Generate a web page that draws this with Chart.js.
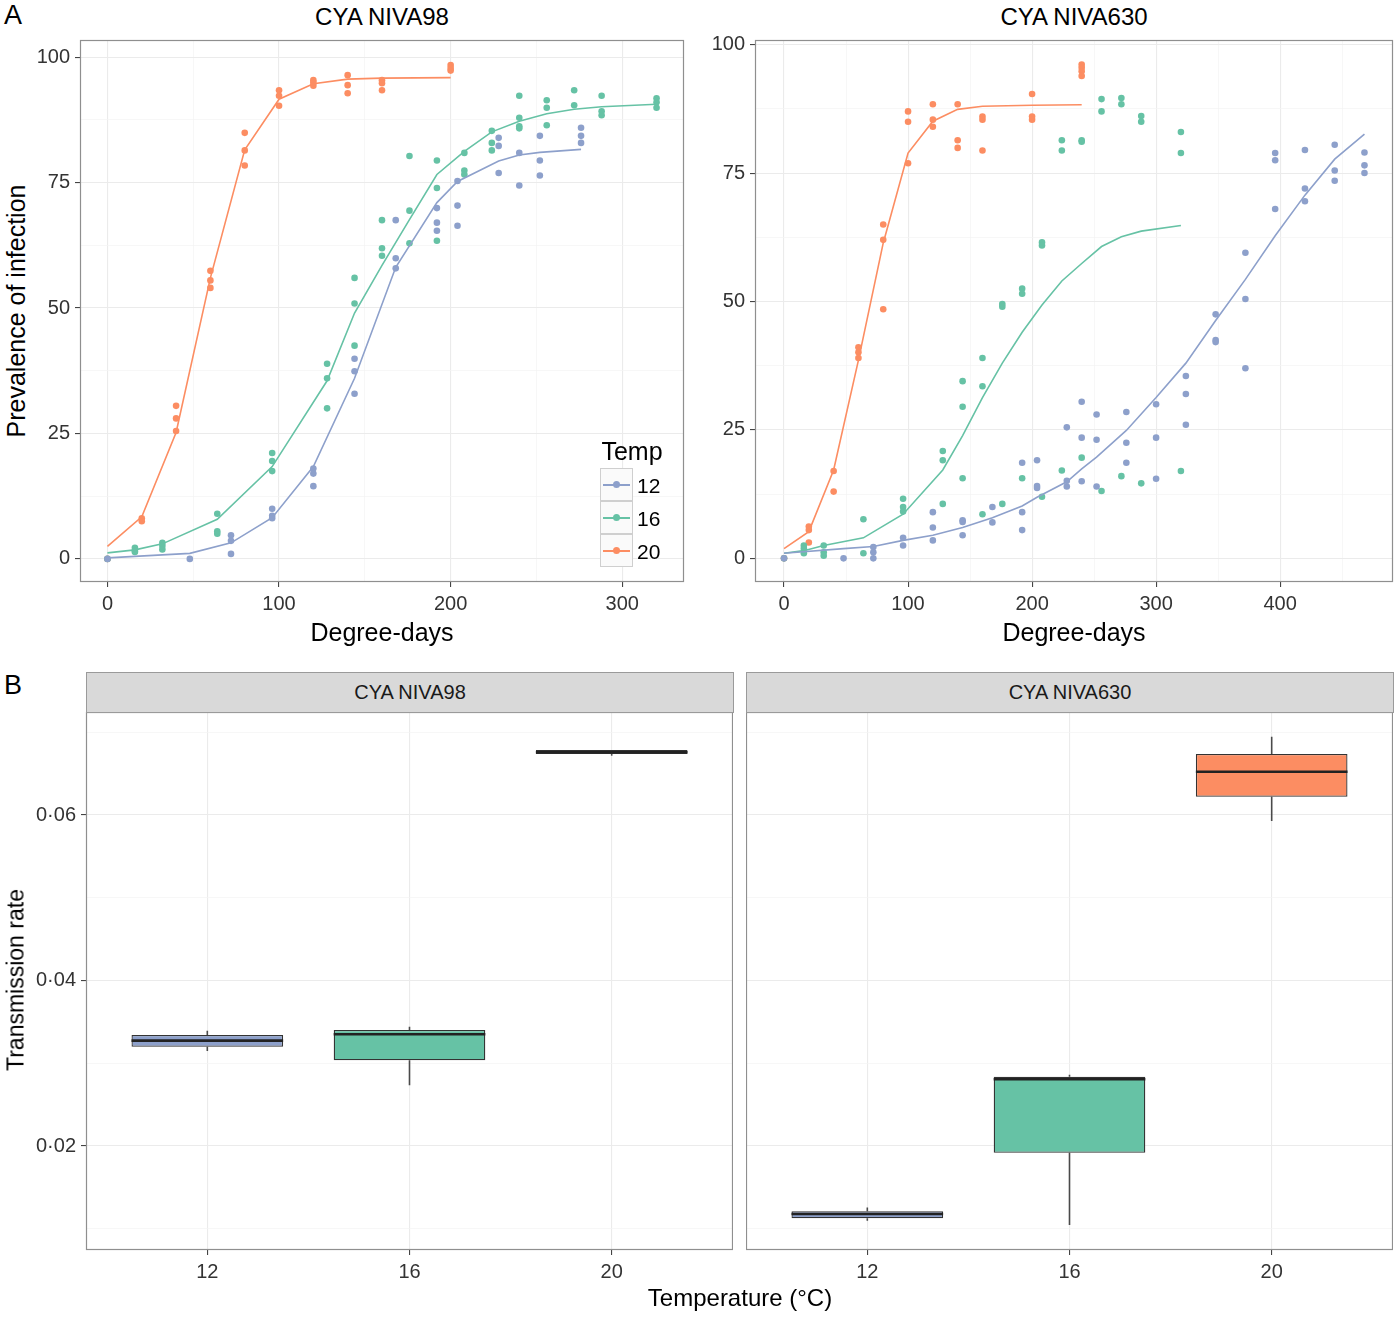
<!DOCTYPE html>
<html><head><meta charset="utf-8">
<script src="https://cdn.jsdelivr.net/npm/chart.js@4.4.0/dist/chart.umd.min.js"></script>
<style>
body{margin:0;background:#fff;}
#wrap{position:relative;width:1400px;height:1318px;font-family:"Liberation Sans",Arial,Helvetica,sans-serif;color:#000;overflow:hidden;background:#fff}
canvas{position:absolute}
.t{position:absolute;white-space:nowrap;line-height:1;transform:translate(-50%,-50%)}
.rot{transform:translate(-50%,-50%) rotate(-90deg)}
.strip{position:absolute;box-sizing:border-box;border:1px solid #9a9a9a;background:#d9d9d9;height:41px;font-size:20px;display:flex;align-items:center;justify-content:center;color:#1a1a1a}
.key{position:absolute;left:600px;width:33px;height:33px;box-sizing:border-box;border:1px solid #cfcfcf;background:#fafafa}
.key .ln{position:absolute;left:2px;right:2px;top:15px;height:1.6px}
.key .dt{position:absolute;left:12px;top:12px;width:7px;height:7px;border-radius:50%}
.klab{position:absolute;left:637px;font-size:21px;line-height:1;transform:translateY(-50%)}
</style></head>
<body><div id="wrap">
<canvas id="c1" width="660" height="590" style="left:30px;top:30px"></canvas>
<canvas id="c2" width="700" height="590" style="left:700px;top:30px"></canvas>
<canvas id="c3" width="707" height="584" style="left:26px;top:702px"></canvas>
<canvas id="c4" width="647" height="584" style="left:746px;top:702px"></canvas>

<div class="t" style="left:13px;top:15px;font-size:27px">A</div>
<div class="t" style="left:13px;top:685px;font-size:27px">B</div>
<div class="t" style="left:382px;top:17px;font-size:24px">CYA NIVA98</div>
<div class="t" style="left:1074px;top:17px;font-size:24px">CYA NIVA630</div>
<div class="t rot" style="left:16px;top:311px;font-size:25px">Prevalence of infection</div>
<div class="t" style="left:382px;top:632px;font-size:25px">Degree-days</div>
<div class="t" style="left:1074px;top:632px;font-size:25px">Degree-days</div>
<div class="t rot" style="left:16px;top:980px;font-size:23px">Transmission rate</div>
<div class="t" style="left:740px;top:1298px;font-size:24px">Temperature (°C)</div>
<div class="strip" style="left:86px;top:672px;width:648px">CYA NIVA98</div>
<div class="strip" style="left:746px;top:672px;width:648px">CYA NIVA630</div>

<div class="t" style="left:632px;top:451px;font-size:25px">Temp</div>
<div class="key" style="top:468px"><div class="ln" style="background:#8da0cb"></div><div class="dt" style="background:#8da0cb"></div></div>
<div class="key" style="top:501px"><div class="ln" style="background:#66c2a5"></div><div class="dt" style="background:#66c2a5"></div></div>
<div class="key" style="top:534px"><div class="ln" style="background:#fc8d62"></div><div class="dt" style="background:#fc8d62"></div></div>
<div class="klab" style="top:485px">12</div>
<div class="klab" style="top:518px">16</div>
<div class="klab" style="top:551px">20</div>
</div>
<script>
// ---------- Panel A : CYA NIVA98 ----------
const a_t12 = [0,48,72,96,120,144,168,192,204,228,240,252,276];
const a_p12 = [[0],[0],[4.7,3.6,1.0],[10,8.6,8.1],[18,17,14.5],[39.9,37.4,32.9],[67.5,59.9,57.9],[69.9,67,65.4],[75.3,70.4,66.4],[83.9,82.3,76.9],[80.9,74.4],[84.3,79.4,76.4],[85.9,84.3,82.9]];
const a_f12 = [0.2,1.1,3.2,8.2,18.4,36,58.1,71,75.2,79.3,80.5,81,81.6];

const a_t16 = [0,16,32,64,96,128,144,160,176,192,208,224,240,256,272,288,320];
const a_p16 = [[0],[2.2,1.6,1.4],[3.2,2.6,1.9],[9.0,5.5,5.0],[21.1,19.5,17.5],[38.9,36,30],[56,50.9,42.5],[67.5,61.9,60.4],[80.3,69.4,62.9],[79.4,73.9,63.4],[80.9,77.4,76.6],[85.3,82.9,81.4],[92.3,87.9,86.2,85.8],[91.4,89.9,86.4],[93.4,90.4],[92.3,89.2,88.4],[91.8,91,89.9]];
const a_f16 = [1.2,1.8,3.0,7.9,18.4,35.5,49,58.5,67.6,76.6,81.2,85.1,87.2,88.7,89.6,90.1,90.6];

const a_t20 = [0,20,40,60,80,100,120,140,160,200];
const a_p20 = [[0],[8.1,7.5],[30.5,28,25.5],[57.4,55.5,54],[84.9,81.4,78.4],[93.4,92.3,90.3],[95.4,94.9,94.3],[96.4,94.4,92.8],[95.4,94.8,93.4],[98.4,97.8,97.3]];
const a_f20 = [2.5,8.4,25.2,56,81.5,91.6,94.7,95.6,95.8,95.9];

// ---------- Panel A : CYA NIVA630 ----------
const b_t12 = [0,48,72,96,120,144,168,192,204,228,240,252,276,300,324,348,372,396,420,444,468];
const b_p12 = [[0],[0],[2.2,1.2,0],[4.0,2.5],[9.0,6.0,3.5],[7.4,7.1,4.5],[10,7.0],[18.6,9.0,5.5],[19.1,14.1,13.7],[25.5,15.1,14.0],[30.5,23.5,15.0],[28,23.1,14.0],[28.5,22.5,18.6],[30,23.5,15.5],[35.5,32,26],[47.5,42.5,42.1],[59.5,50.5,37],[78.9,77.5,68],[79.5,72,69.5],[80.5,75.5,73.5],[79,76.5,75]];
const b_f12 = [1.0,1.9,2.3,3.5,4.5,6.0,7.9,10.2,11.9,14.9,17.4,19.7,24.9,31.3,38,46.3,54.3,62.8,70.7,77.7,82.6];

const b_t16 = [0,16,32,64,96,128,144,160,176,192,208,224,240,256,272,288,320];
const b_p16 = [[0],[2.5,1.9,1.0],[2.5,1.2,0.5],[7.6,1.0],[11.6,10,9.1],[20.9,19.1,10.6],[34.5,29.5,15.6],[39,33.5,8.6],[49.5,49,10.6],[52.5,51.5,15.6],[61.5,60.9,12],[81.4,79.4,17.1],[81.4,81.1,19.6],[89.4,87,13.1],[89.6,88.4,16.0],[86.1,85,14.6],[83,78.9,17.0]];
const b_f16 = [1.0,1.5,2.5,4.0,8.6,17.2,23.9,31.3,38,44,49.3,54,57.4,60.7,62.6,63.7,64.8];

const b_t20 = [0,20,40,60,80,100,120,140,160,200,240];
const b_p20 = [[0],[6.2,5.5,3.1],[17,13],[41.1,40.1,39.0],[65,62,48.5],[87,85,76.9],[88.4,85.4,84],[88.4,81.4,79.9],[86,85.4,79.4],[90.4,86,85.4],[96.1,95.5,94.8,93.9]];
const b_f20 = [1.9,5.2,17.2,38.6,61.4,78.9,85.1,87.4,88,88.2,88.3];

// ---------- Panel B : transmission rate boxplots ----------
const tempCats = ['12','16','20'];
const boxA_lo  = [0.03148,0.02733,0.06717];
const boxA_q1  = [0.03200,0.03036,0.06737];
const boxA_med = [0.03273,0.03350,0.06758];
const boxA_q3  = [0.03341,0.03402,0.06785];
const boxA_hi  = [0.03393,0.03442,0.06785];
const boxB_lo  = [0.01097,0.01045,0.05927];
const boxB_q1  = [0.01126,0.01919,0.06221];
const boxB_med = [0.01178,0.02806,0.06523];
const boxB_q3  = [0.01211,0.02838,0.06737];
const boxB_hi  = [0.01256,0.02862,0.06946];

// tick values
const yTicksA = [0,12.5,25,37.5,50,62.5,75,87.5,100];
const yMajorA = [0,25,50,75,100];
const xTicksL = [0,50,100,150,200,250,300];
const xTicksR = [0,50,100,150,200,250,300,350,400,450];
const xMajor = [0,100,200,300,400];
const yTicksB = [0.01,0.02,0.03,0.04,0.05,0.06,0.07];

const COL = {'12':'#8da0cb','16':'#66c2a5','20':'#fc8d62'};

Chart.defaults.font.family = '"Liberation Sans", Arial, Helvetica, sans-serif';
Chart.defaults.animation = false;

const borderPlugin = {
  id:'panelBorder',
  afterDraw(chart){
    const a = chart.chartArea, c = chart.ctx;
    c.save(); c.strokeStyle = '#8f8f8f'; c.lineWidth = 1.2;
    c.strokeRect(a.left+0.5, a.top+0.5, a.right-a.left-1, a.bottom-a.top-1);
    c.restore();
  }
};

function pts(t, p){
  const out = [];
  t.forEach((x,i)=>p[i].forEach(v=>out.push({x:x,y:v})));
  return out;
}
function fit(t, f){ return t.map((x,i)=>({x:x,y:f[i]})); }

function gridOpts(isMajor){
  return {
    offset:false,
    color: c => (c.tick && isMajor(c.tick.value)) ? '#ebebeb' : '#f3f3f3',
    lineWidth: c => (c.tick && isMajor(c.tick.value)) ? 1.1 : 0.7,
    tickColor: c => (c.tick && isMajor(c.tick.value)) ? '#444' : 'rgba(0,0,0,0)',
    tickLength: 5, drawTicks: true
  };
}
function fitX(h){ return s => { s.height = h; s.paddingLeft = 0; s.paddingRight = 0; }; }
function fitY(w){ return s => { s.width = w; s.paddingTop = 0; s.paddingBottom = 0; }; }

function topChart(id, data, xmin, xmax, xticks, ymin, ymax, yw, padR){
  const ds = [];
  ['12','16','20'].forEach(k=>{
    ds.push({type:'scatter', data: pts(data[k].t, data[k].p), backgroundColor: COL[k], borderColor: COL[k], borderWidth:0, pointRadius:3.3, showLine:false});
    ds.push({type:'scatter', data: fit(data[k].t, data[k].f), borderColor: COL[k], backgroundColor: COL[k], borderWidth:1.6, pointRadius:0, showLine:true, tension:0});
  });
  const isMX = v => xMajor.includes(v);
  const isMY = v => yMajorA.includes(v);
  new Chart(document.getElementById(id), {
    type:'scatter',
    data:{datasets:ds},
    options:{
      responsive:false, devicePixelRatio:1,
      layout:{padding:{left:0,right:padR,top:10,bottom:0}},
      plugins:{legend:{display:false}, tooltip:{enabled:false}},
      scales:{
        x:{type:'linear', min:xmin, max:xmax,
           afterBuildTicks: s => { s.ticks = xticks.map(v=>({value:v})); },
           afterFit: fitX(38),
           ticks:{autoSkip:false, maxRotation:0, padding:5, color:'#333', font:{size:20}, callback: v => isMX(v) ? String(v) : ''},
           grid: gridOpts(isMX), border:{display:false}},
        y:{type:'linear', min:ymin, max:ymax,
           afterBuildTicks: s => { s.ticks = yTicksA.map(v=>({value:v})); },
           afterFit: fitY(yw),
           ticks:{autoSkip:false, padding:5, color:'#333', font:{size:20}, callback: v => isMY(v) ? String(v) : ''},
           grid: gridOpts(isMY), border:{display:false}}
      }
    },
    plugins:[borderPlugin]
  });
}

topChart('c1', {
  '12':{t:a_t12,p:a_p12,f:a_f12},
  '16':{t:a_t16,p:a_p16,f:a_f16},
  '20':{t:a_t20,p:a_p20,f:a_f20}
}, -16, 336, xTicksL, -4.6, 103.4, 50, 6);

topChart('c2', {
  '12':{t:b_t12,p:b_p12,f:b_f12},
  '16':{t:b_t16,p:b_p16,f:b_f16},
  '20':{t:b_t20,p:b_p20,f:b_f20}
}, -23.4, 491, xTicksR, -4.6, 100.9, 55, 7);

const boxPlugin = {
  id:'boxExtras',
  afterDatasetsDraw(chart){
    const o = chart.options.plugins.boxExtras;
    const y = chart.scales.y, meta = chart.getDatasetMeta(0), c = chart.ctx;
    c.save();
    meta.data.forEach((el,i)=>{
      const x = el.x, w = el.width;
      c.strokeStyle = '#4a4a4a'; c.lineWidth = 1.6;
      c.beginPath();
      c.moveTo(x, y.getPixelForValue(o.q3[i])); c.lineTo(x, y.getPixelForValue(o.hi[i]));
      c.moveTo(x, y.getPixelForValue(o.q1[i])); c.lineTo(x, y.getPixelForValue(o.lo[i]));
      c.stroke();
      c.strokeStyle = '#222'; c.lineWidth = 2.6;
      const ym = y.getPixelForValue(o.med[i]);
      c.beginPath(); c.moveTo(x-w/2, ym); c.lineTo(x+w/2, ym); c.stroke();
    });
    c.restore();
  }
};

function boxChart(id, q1, q3, med, lo, hi, showY){
  const isMY = v => Math.round(v*100) % 2 === 0;
  const isMX = v => true;
  new Chart(document.getElementById(id), {
    type:'bar',
    data:{datasets:[{
      data: q1.map((v,i)=>({x:i, y:[q1[i], q3[i]]})),
      backgroundColor: tempCats.map(k=>COL[k]),
      borderColor:'#333', borderWidth:1.3, borderSkipped:false,
      barPercentage:0.75, categoryPercentage:1
    }]},
    options:{
      responsive:false, devicePixelRatio:1,
      layout:{padding:{left:0,right:0,top:10,bottom:0}},
      plugins:{legend:{display:false}, tooltip:{enabled:false},
        boxExtras:{q1:q1,q3:q3,med:med,lo:lo,hi:hi}},
      scales:{
        x:{type:'linear', min:-0.6, max:2.6, offset:false,
           afterBuildTicks: s => { s.ticks = [0,1,2].map(v=>({value:v})); },
           afterFit: fitX(36),
           ticks:{autoSkip:false, maxRotation:0, padding:5, color:'#333', font:{size:20}, callback: v => tempCats[v]},
           grid: gridOpts(isMX), border:{display:false}},
        y:{type:'linear', min:0.00743, max:0.07245,
           afterBuildTicks: s => { s.ticks = yTicksB.map(v=>({value:v})); },
           afterFit: fitY(showY ? 60 : 0),
           ticks:{display:showY, autoSkip:false, padding:5, color:'#333', font:{size:20},
                  callback: v => isMY(v) ? v.toFixed(2).replace('.', '\u00B7') : ''},
           grid: Object.assign(gridOpts(isMY), {drawTicks: showY}), border:{display:false}}
      }
    },
    plugins:[boxPlugin, borderPlugin]
  });
}

boxChart('c3', boxA_q1, boxA_q3, boxA_med, boxA_lo, boxA_hi, true);
boxChart('c4', boxB_q1, boxB_q3, boxB_med, boxB_lo, boxB_hi, false);
</script>
</body></html>
